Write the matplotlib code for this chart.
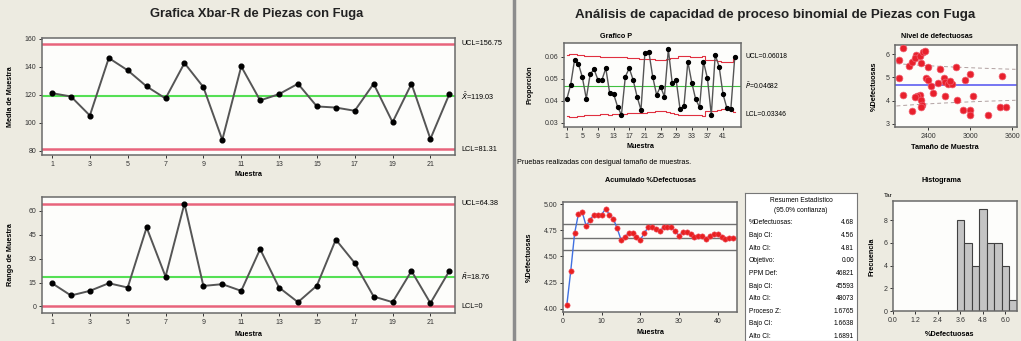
import numpy as np
import matplotlib
matplotlib.use('Agg')
import matplotlib.pyplot as plt
from matplotlib.lines import Line2D

plt.rcParams['font.family'] = ['Liberation Sans', 'DejaVu Sans']

# ---------------- data ----------------
xbar_samples = list(range(1, 23))
xbar_means = [121.3, 118.9, 105.3, 146.4, 137.6, 126.1, 117.5, 142.8, 125.6, 87.9, 140.4,
              116.1, 120.6, 128.0, 111.8, 111.0, 108.7, 128.0, 100.5, 128.0, 88.6, 120.6]
xbar_ucl, xbar_center, xbar_lcl = 156.75, 119.03, 81.31

sample_ranges = [14.6, 6.9, 9.8, 14.6, 11.9, 49.6, 18.75, 64.6, 12.9, 14.0, 9.8,
                 36.0, 11.9, 2.7, 13.1, 42.0, 27.3, 6.25, 2.7, 22.3, 2.1, 22.3]
r_ucl, r_center, r_lcl = 64.38, 18.76, 0.0

p_values = [0.0406, 0.0471, 0.0585, 0.0567, 0.0506, 0.0409, 0.0521, 0.0542, 0.0494, 0.0494,
            0.0547, 0.0433, 0.0430, 0.0373, 0.0335, 0.0509, 0.0547, 0.0494, 0.0418, 0.0358,
            0.0615, 0.0623, 0.0509, 0.0426, 0.0464, 0.0418, 0.0633, 0.0479, 0.0494, 0.0361,
            0.0376, 0.0577, 0.0482, 0.0406, 0.0370, 0.0577, 0.0502, 0.0335, 0.0608, 0.0555,
            0.0429, 0.0365, 0.0361, 0.0597]
p_center = 0.04682
p_ucl_label, p_lcl_label = 0.06018, 0.03346

sample_sizes = [2047, 1990, 1990, 2050, 2124, 2176, 2233, 2210, 2281, 2329,
                2352, 2295, 2400, 2376, 2400, 2438, 2567, 2543, 2629, 2648,
                2686, 2748, 2795, 2933, 2995, 3043, 2819, 2638, 2471, 2281,
                2248, 2210, 2305, 2314, 2305, 2171, 2900, 2995, 2995, 3257,
                3424, 3519, 3462, 2710]
pct_defective = [6.26, 5.76, 4.97, 4.25, 5.47, 5.68, 5.97, 5.83, 5.90, 6.11,
                 6.14, 5.61, 5.43, 4.97, 4.90, 4.61, 5.37, 4.75, 4.97, 4.82,
                 4.71, 4.71, 5.43, 4.90, 5.14, 4.18, 4.04, 4.18, 4.33, 4.25,
                 4.21, 4.16, 4.04, 3.82, 3.71, 3.57, 3.61, 3.61, 3.39, 3.39,
                 3.75, 3.75, 5.08, 4.85]

cum_pct = [4.04, 4.36, 4.72, 4.91, 4.92, 4.79, 4.85, 4.90, 4.90, 4.90,
           4.955, 4.90, 4.86, 4.77, 4.66, 4.69, 4.72, 4.72, 4.69, 4.66,
           4.72, 4.78, 4.78, 4.76, 4.74, 4.78, 4.78, 4.78, 4.74, 4.70,
           4.73, 4.73, 4.71, 4.69, 4.70, 4.70, 4.67, 4.70, 4.71, 4.71,
           4.69, 4.67, 4.68, 4.68]
ci_low, ci_est, ci_high = 4.56, 4.68, 4.81

hist_first_edge = 3.4
hist_bin_width = 0.4
hist_counts = [8, 6, 4, 9, 6, 6, 4, 1]

summary_labels = ["%Defectuosas:", "Bajo CI:", "Alto CI:", "Objetivo:", "PPM Def:",
                  "Bajo CI:", "Alto CI:", "Proceso Z:", "Bajo CI:", "Alto CI:"]
summary_values = ["4.68", "4.56", "4.81", "0.00", "46821",
                  "45593", "48073", "1.6765", "1.6638", "1.6891"]

# ---------------- style ----------------
W, H = 1021, 341
BG = '#edebe1'
FACE = '#fdfdfb'
SPINE = '#6a6a6a'
RED = '#e8647c'
GREEN = '#55e055'
LINE = '#555555'
TICK_FS = 5
LAB_FS = 5.2

fig = plt.figure(figsize=(W / 100, H / 100), dpi=100, facecolor=BG)


def ax_at(l, t, r, b):
    ax = fig.add_axes([l / W, 1 - b / H, (r - l) / W, (b - t) / H])
    ax.set_facecolor(FACE)
    for s in ax.spines.values():
        s.set_color(SPINE)
        s.set_linewidth(1.1)
    ax.tick_params(labelsize=TICK_FS, length=2.5, width=0.7, pad=1.5, colors='#333333')
    return ax


def ftext(x, y, s, **kw):
    kw.setdefault('ha', 'center')
    kw.setdefault('va', 'center')
    return fig.text(x / W, 1 - y / H, s, **kw)


# separator
fig.add_artist(Line2D([513.5 / W, 513.5 / W], [0, 1], color='#8c8c8c', lw=2.5))

# ---------------- Xbar chart ----------------
ftext(257, 14, "Grafica Xbar-R de Piezas con Fuga", fontsize=9.3, fontweight='bold', color='#222222')
ax1 = ax_at(42, 38, 455, 155)
ax1.plot(xbar_samples, xbar_means, color=LINE, lw=1.4, marker='o', ms=3.4,
         mfc='black', mec='black', zorder=3)
ax1.axhline(xbar_ucl, color=RED, lw=1.8)
ax1.axhline(xbar_center, color=GREEN, lw=1.5)
ax1.axhline(xbar_lcl, color=RED, lw=1.8)
ax1.set_xlim(0.47, 22.3)
ax1.set_ylim(77.1, 160.7)
ax1.set_xticks(range(1, 23, 2))
ax1.set_yticks([80, 100, 120, 140, 160])
t1 = ax1.get_yaxis_transform()
ax1.text(1.015, xbar_ucl, f"UCL={xbar_ucl:.2f}", transform=t1, fontsize=LAB_FS, va='center')
ax1.text(1.015, xbar_center, r"$\bar{\bar{X}}$" + f"={xbar_center:.2f}", transform=t1,
         fontsize=LAB_FS, va='center')
ax1.text(1.015, xbar_lcl, f"LCL={xbar_lcl:.2f}", transform=t1, fontsize=LAB_FS, va='center')
ftext(248, 175, "Muestra", fontsize=LAB_FS, fontweight='bold')
ftext(11, 97, "Media de Muestra", fontsize=LAB_FS, fontweight='bold', rotation=90)

# ---------------- R chart ----------------
ax2 = ax_at(42, 197, 455, 313)
ax2.plot(xbar_samples, sample_ranges, color=LINE, lw=1.4, marker='o', ms=3.4,
         mfc='black', mec='black', zorder=3)
ax2.axhline(r_ucl, color=RED, lw=1.8)
ax2.axhline(r_center, color=GREEN, lw=1.5)
ax2.axhline(r_lcl, color=RED, lw=1.8)
ax2.set_xlim(0.47, 22.3)
ax2.set_ylim(-4.1, 68.75)
ax2.set_xticks(range(1, 23, 2))
ax2.set_yticks([0, 15, 30, 45, 60])
t2 = ax2.get_yaxis_transform()
ax2.text(1.015, r_ucl, f"UCL={r_ucl:.2f}", transform=t2, fontsize=LAB_FS, va='center')
ax2.text(1.015, r_center, r"$\bar{R}$" + f"={r_center:.2f}", transform=t2,
         fontsize=LAB_FS, va='center')
ax2.text(1.015, r_lcl, f"LCL={r_lcl:g}", transform=t2, fontsize=LAB_FS, va='center')
ftext(248, 334, "Muestra", fontsize=LAB_FS, fontweight='bold')
ftext(11, 255, "Rango de Muestra", fontsize=LAB_FS, fontweight='bold', rotation=90)

# ---------------- right panel ----------------
ftext(775, 15, "Análisis de capacidad de proceso binomial de Piezas con Fuga",
      fontsize=9.6, fontweight='bold', color='#222222')

# P chart
n_arr = np.array(sample_sizes, dtype=float)
sigma = np.sqrt(p_center * (1 - p_center) / n_arr)
pidx = np.arange(1, len(p_values) + 1)
axp = ax_at(564, 43, 741, 127)
axp.step(pidx, p_center + 3 * sigma, where='mid', color='#e03040', lw=0.8)
axp.step(pidx, p_center - 3 * sigma, where='mid', color='#e03040', lw=0.8)
axp.axhline(p_center, color='#40c040', lw=0.8)
axp.plot(pidx, p_values, color=LINE, lw=1.0, marker='o', ms=2.8, mfc='black', mec='black', zorder=3)
axp.set_xlim(0.3, 45.6)
axp.set_ylim(0.028, 0.0662)
axp.set_xticks(range(1, 45, 4))
axp.set_yticks([0.03, 0.04, 0.05, 0.06])
axp.set_yticklabels(["0.03", "0.04", "0.05", "0.06"])
tp = axp.get_yaxis_transform()
axp.text(1.025, p_ucl_label, f"UCL={p_ucl_label:.5f}", transform=tp, fontsize=LAB_FS - 0.3, va='center')
axp.text(1.025, p_center, r"$\bar{P}$" + f"={p_center:.5f}", transform=tp, fontsize=LAB_FS - 0.3, va='center')
axp.text(1.025, p_lcl_label, f"LCL={p_lcl_label:.5f}", transform=tp, fontsize=LAB_FS - 0.3, va='center')
ftext(616, 37, "Grafico P", fontsize=LAB_FS, fontweight='bold')
ftext(640, 146, "Muestra", fontsize=LAB_FS, fontweight='bold')
ftext(530, 85, "Proporción", fontsize=LAB_FS, fontweight='bold', rotation=90)
ftext(517, 162, "Pruebas realizadas con desigual tamaño de muestras.", fontsize=LAB_FS, ha='left')

# Scatter: rate of defectives vs sample size
axs = ax_at(895, 45, 1017, 127)
nn = np.linspace(1950, 3650, 50)
band = 1.9 * np.sqrt(p_center * (1 - p_center) / nn) * 100
axs.plot(nn, p_center * 100 + band, color='#b0a0a0', lw=0.7, ls=(0, (4, 3)))
axs.plot(nn, p_center * 100 - band, color='#b0a0a0', lw=0.7, ls=(0, (4, 3)))
axs.axhline(p_center * 100, color='#5050f0', lw=1.1)
axs.scatter(sample_sizes, pct_defective, s=24, color='#e8202c', edgecolor='#f06070', lw=0.5, zorder=3)
axs.set_xlim(1929, 3671)
axs.set_ylim(2.87, 6.39)
axs.set_xticks([2400, 3000, 3600])
axs.set_yticks([3, 4, 5, 6])
ftext(937, 37, "Nivel de defectuosas", fontsize=LAB_FS, fontweight='bold')
ftext(945, 147, "Tamaño de Muestra", fontsize=LAB_FS, fontweight='bold')
ftext(874, 86, "%Defectuosas", fontsize=LAB_FS, fontweight='bold', rotation=90)

# Cumulative %defective
axc = ax_at(563, 202, 737, 312)
for v in (ci_high, ci_est, ci_low):
    axc.axhline(v, color='#707070', lw=1.0)
cidx = np.arange(1, len(cum_pct) + 1)
axc.plot(cidx, cum_pct, color='#4070e0', lw=1.0, zorder=3)
axc.plot(cidx, cum_pct, ls='none', marker='o', ms=3.8, mfc='#e82020', mec='#f05060', mew=0.4, zorder=4)
axc.set_xlim(0, 45)
axc.set_ylim(3.97, 5.02)
axc.set_xticks([0, 10, 20, 30, 40])
axc.set_yticks([4.0, 4.25, 4.5, 4.75, 5.0])
axc.set_yticklabels(["4.00", "4.25", "4.50", "4.75", "5.00"])
ftext(650, 181, "Acumulado %Defectuosas", fontsize=LAB_FS, fontweight='bold')
ftext(650, 333, "Muestra", fontsize=LAB_FS, fontweight='bold')
ftext(529, 257, "%Defectuosas", fontsize=LAB_FS, fontweight='bold', rotation=90)

# Summary table
axt = fig.add_axes([745 / W, 1 - 341 / H, (857 - 745) / W, (341 - 193) / H])
axt.set_facecolor('white')
axt.set_xticks([])
axt.set_yticks([])
for s in axt.spines.values():
    s.set_color('#777777')
    s.set_linewidth(0.8)
ftext(801, 200, "Resumen Estadístico", fontsize=4.8)
ftext(801, 210, "(95.0% confianza)", fontsize=4.8)
for i, (lab, val) in enumerate(zip(summary_labels, summary_values)):
    y = 223 + i * 12.6
    ftext(749, y, lab, fontsize=4.8, ha='left')
    ftext(854, y, val, fontsize=4.8, ha='right')

# Histogram
axh = ax_at(893, 201, 1017, 311)
edges = hist_first_edge + hist_bin_width * np.arange(len(hist_counts))
axh.bar(edges, hist_counts, width=hist_bin_width, align='edge', color='#c4c4c4',
        edgecolor='#404040', lw=0.8)
axh.set_xlim(0, 6.62)
axh.set_ylim(0, 9.7)
axh.set_xticks([0.0, 1.2, 2.4, 3.6, 4.8, 6.0])
axh.set_xticklabels(["0.0", "1.2", "2.4", "3.6", "4.8", "6.0"])
axh.set_yticks([0, 2, 4, 6, 8])
ftext(888, 195, "Tar", fontsize=4.5)
ftext(941, 181, "Histograma", fontsize=LAB_FS, fontweight='bold')
ftext(950, 334, "%Defectuosas", fontsize=LAB_FS, fontweight='bold')
ftext(872, 257, "Frecuencia", fontsize=LAB_FS, fontweight='bold', rotation=90)

fig.savefig("out.png", dpi=100, facecolor=BG)
